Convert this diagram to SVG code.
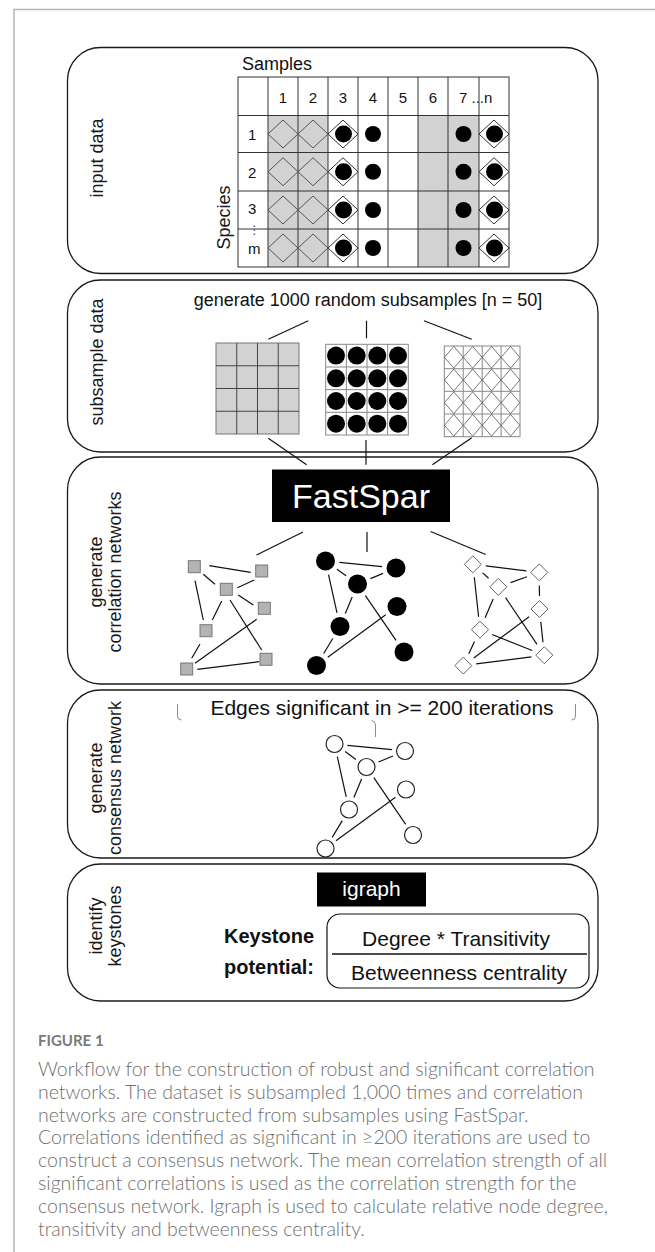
<svg xmlns="http://www.w3.org/2000/svg" xmlns:xlink="http://www.w3.org/1999/xlink" width="655" height="1252" viewBox="0 0 655 1252">
<style>
.panel{fill:none;stroke:#1a1a1a;stroke-width:1.3}
.t{font-family:"Liberation Sans",Arial,Helvetica,sans-serif;fill:#111}
.lbl{font-family:"Liberation Sans",Arial,Helvetica,sans-serif;font-size:18px;fill:#1a1a1a;text-anchor:middle}
.num{font-family:"Liberation Sans",Arial,Helvetica,sans-serif;font-size:15px;fill:#111}
.conn line,.conn path{stroke:#111;stroke-width:1.2;fill:none}
.edge line{stroke:#111;stroke-width:1.2}
.tl{stroke:#333;stroke-width:1}
.cap{font-family:Lato,"Open Sans","Liberation Sans",sans-serif;font-size:19.5px;font-weight:300;fill:#707070}
</style>
<defs>
<path id="dTab" d="M-15,0 L0,-14 L15,0 L0,14 Z"/>
<path id="dSub" d="M-9.3,0 L0,-10.9 L9.3,0 L0,10.9 Z" fill="none" stroke="#555" stroke-width="0.8"/>
<rect id="sq" x="-6" y="-6" width="12" height="12" fill="#b3b3b3" stroke="#777" stroke-width="1"/>
<path id="dn" d="M-8.5,0 L0,-8.5 L8.5,0 L0,8.5 Z" fill="#fff" stroke="#666" stroke-width="1"/>
</defs>

<path d="M14,1252 V9.5 H655" fill="none" stroke="#b5b5b5" stroke-width="1.5"/>

<g id="panel-input">
<rect class="panel" x="67.5" y="47.5" width="530.5" height="226" rx="33"/>
<text class="lbl" transform="translate(103,158) rotate(-90)">input data</text>
<text class="t" x="242" y="70" font-size="18">Samples</text>
<text class="lbl" transform="translate(230,217.5) rotate(-90)">Species</text>
<rect x="238" y="77" width="271" height="190" fill="#fff"/>
<rect x="268" y="115.5" width="60" height="151.5" fill="#d2d2d2"/>
<rect x="418" y="115.5" width="61" height="151.5" fill="#d2d2d2"/>
<g class="tl">
<line x1="268" y1="77" x2="268" y2="267"/><line x1="298" y1="77" x2="298" y2="267"/>
<line x1="328" y1="77" x2="328" y2="267"/><line x1="358" y1="77" x2="358" y2="267"/>
<line x1="388" y1="77" x2="388" y2="267"/><line x1="418" y1="77" x2="418" y2="267"/>
<line x1="448" y1="77" x2="448" y2="267"/><line x1="479" y1="77" x2="479" y2="267"/>
<line x1="238" y1="115.5" x2="509" y2="115.5"/><line x1="238" y1="152.5" x2="509" y2="152.5"/>
<line x1="238" y1="191" x2="509" y2="191"/><line x1="238" y1="229" x2="509" y2="229"/>
</g>
<rect x="238" y="77" width="271" height="190" fill="none" stroke="#333" stroke-width="1"/>
<g class="num" text-anchor="middle">
<text x="283" y="103">1</text><text x="313" y="103">2</text><text x="343" y="103">3</text>
<text x="373" y="103">4</text><text x="403" y="103">5</text><text x="433" y="103">6</text>
</g>
<text class="num" x="459" y="103">7 ...n</text>
<g class="num">
<text x="248" y="140">1</text><text x="248" y="178">2</text><text x="248" y="214">3</text><text x="248" y="254">m</text>
</g>
<text x="248.5" y="234" font-family="DejaVu Sans,sans-serif" font-size="12" fill="#444">⋮</text>
<g fill="none" stroke="#555" stroke-width="1">
<use xlink:href="#dTab" x="283" y="134"/><use xlink:href="#dTab" x="313" y="134"/>
<use xlink:href="#dTab" x="283" y="171.75"/><use xlink:href="#dTab" x="313" y="171.75"/>
<use xlink:href="#dTab" x="283" y="210"/><use xlink:href="#dTab" x="313" y="210"/>
<use xlink:href="#dTab" x="283" y="248"/><use xlink:href="#dTab" x="313" y="248"/>
</g>
<g fill="#fff" stroke="#333" stroke-width="1">
<use xlink:href="#dTab" x="343" y="134"/><use xlink:href="#dTab" x="494" y="134"/>
<use xlink:href="#dTab" x="343" y="171.75"/><use xlink:href="#dTab" x="494" y="171.75"/>
<use xlink:href="#dTab" x="343" y="210"/><use xlink:href="#dTab" x="494" y="210"/>
<use xlink:href="#dTab" x="343" y="248"/><use xlink:href="#dTab" x="494" y="248"/>
</g>
<g fill="#000">
<circle cx="343.5" cy="134" r="8.5"/><circle cx="373" cy="134" r="8"/><circle cx="463.5" cy="134" r="8"/><circle cx="494.5" cy="134" r="8.5"/>
<circle cx="343.5" cy="171.75" r="8.5"/><circle cx="373" cy="171.75" r="8"/><circle cx="463.5" cy="171.75" r="8"/><circle cx="494.5" cy="171.75" r="8.5"/>
<circle cx="343.5" cy="210" r="8.5"/><circle cx="373" cy="210" r="8"/><circle cx="463.5" cy="210" r="8"/><circle cx="494.5" cy="210" r="8.5"/>
<circle cx="343.5" cy="248" r="8.5"/><circle cx="373" cy="248" r="8"/><circle cx="463.5" cy="248" r="8"/><circle cx="494.5" cy="248" r="8.5"/>
</g>
</g>

<g id="panel-subsample">
<rect class="panel" x="67.5" y="280" width="530.5" height="172" rx="33"/>
<text class="lbl" transform="translate(103,362) rotate(-90)">subsample data</text>
<text class="t" x="368" y="306" font-size="18" text-anchor="middle">generate 1000 random subsamples [n = 50]</text>
<g id="grid-gray">
<rect x="216" y="343" width="83" height="91" fill="#d2d2d2" stroke="#777" stroke-width="1"/>
<g stroke="#444" stroke-width="1">
<line x1="236.75" y1="343" x2="236.75" y2="434"/><line x1="257.5" y1="343" x2="257.5" y2="434"/><line x1="278.25" y1="343" x2="278.25" y2="434"/>
<line x1="216" y1="365.75" x2="299" y2="365.75"/><line x1="216" y1="388.5" x2="299" y2="388.5"/><line x1="216" y1="411.25" x2="299" y2="411.25"/>
</g>
</g>
<g id="grid-black">
<rect x="325.7" y="344.3" width="82.6" height="90.7" fill="#fff" stroke="#888" stroke-width="1"/>
<g stroke="#888" stroke-width="1">
<line x1="346.35" y1="344.3" x2="346.35" y2="435"/><line x1="367" y1="344.3" x2="367" y2="435"/><line x1="387.65" y1="344.3" x2="387.65" y2="435"/>
<line x1="325.7" y1="367" x2="408.3" y2="367"/><line x1="325.7" y1="389.65" x2="408.3" y2="389.65"/><line x1="325.7" y1="412.3" x2="408.3" y2="412.3"/>
</g>
<g fill="#000">
<circle cx="336" cy="355.6" r="9"/><circle cx="356.7" cy="355.6" r="9"/><circle cx="377.3" cy="355.6" r="9"/><circle cx="398" cy="355.6" r="9"/>
<circle cx="336" cy="378.3" r="9"/><circle cx="356.7" cy="378.3" r="9"/><circle cx="377.3" cy="378.3" r="9"/><circle cx="398" cy="378.3" r="9"/>
<circle cx="336" cy="401" r="9"/><circle cx="356.7" cy="401" r="9"/><circle cx="377.3" cy="401" r="9"/><circle cx="398" cy="401" r="9"/>
<circle cx="336" cy="423.7" r="9"/><circle cx="356.7" cy="423.7" r="9"/><circle cx="377.3" cy="423.7" r="9"/><circle cx="398" cy="423.7" r="9"/>
</g>
</g>
<g id="grid-diamond">
<rect x="444.3" y="346" width="75.7" height="90.7" fill="#fff" stroke="#888" stroke-width="1"/>
<g stroke="#888" stroke-width="1">
<line x1="463.2" y1="346" x2="463.2" y2="436.7"/><line x1="482.2" y1="346" x2="482.2" y2="436.7"/><line x1="501.1" y1="346" x2="501.1" y2="436.7"/>
<line x1="444.3" y1="368.7" x2="520" y2="368.7"/><line x1="444.3" y1="391.3" x2="520" y2="391.3"/><line x1="444.3" y1="414" x2="520" y2="414"/>
</g>
<use xlink:href="#dSub" x="453.8" y="357.3"/><use xlink:href="#dSub" x="472.7" y="357.3"/><use xlink:href="#dSub" x="491.6" y="357.3"/><use xlink:href="#dSub" x="510.5" y="357.3"/>
<use xlink:href="#dSub" x="453.8" y="380"/><use xlink:href="#dSub" x="472.7" y="380"/><use xlink:href="#dSub" x="491.6" y="380"/><use xlink:href="#dSub" x="510.5" y="380"/>
<use xlink:href="#dSub" x="453.8" y="402.7"/><use xlink:href="#dSub" x="472.7" y="402.7"/><use xlink:href="#dSub" x="491.6" y="402.7"/><use xlink:href="#dSub" x="510.5" y="402.7"/>
<use xlink:href="#dSub" x="453.8" y="425.3"/><use xlink:href="#dSub" x="472.7" y="425.3"/><use xlink:href="#dSub" x="491.6" y="425.3"/><use xlink:href="#dSub" x="510.5" y="425.3"/>
</g>
</g>

<g id="panel-fastspar">
<rect class="panel" x="67.5" y="457" width="530.5" height="227" rx="33"/>
<text class="lbl" transform="translate(101.5,572) rotate(-90)">generate</text>
<text class="lbl" transform="translate(121,572) rotate(-90)">correlation networks</text>
<rect x="272" y="469.5" width="178" height="52.5" fill="#000"/>
<text class="t" x="361" y="508" font-size="34" text-anchor="middle" style="fill:#fff">FastSpar</text>
<g id="net-squares">
<g class="edge">
<line x1="209.3" y1="565.7" x2="250.7" y2="572.3"/><line x1="203.3" y1="574.3" x2="215" y2="584.3"/>
<line x1="237.3" y1="587.7" x2="254.3" y2="580"/><line x1="195" y1="580.7" x2="203.3" y2="620"/>
<line x1="221.7" y1="601" x2="212.3" y2="620"/><line x1="238.3" y1="595" x2="253.3" y2="605"/>
<line x1="230" y1="600" x2="261.7" y2="650"/><line x1="256.7" y1="619.3" x2="195" y2="663.3"/>
<line x1="200" y1="644" x2="191.7" y2="658.3"/><line x1="197.3" y1="669.3" x2="259.3" y2="661.7"/>
</g>
<use xlink:href="#sq" x="194.3" y="566.7"/><use xlink:href="#sq" x="261.7" y="571"/><use xlink:href="#sq" x="226.3" y="589.3"/>
<use xlink:href="#sq" x="264.3" y="608.3"/><use xlink:href="#sq" x="206" y="630.7"/><use xlink:href="#sq" x="266" y="659.3"/>
<use xlink:href="#sq" x="186.7" y="669"/>
</g>
<g id="net-circles">
<g class="edge">
<line x1="339.4" y1="562.4" x2="382.1" y2="566.6"/><line x1="336.9" y1="569.2" x2="346.1" y2="575.8"/>
<line x1="370.4" y1="578.6" x2="383.1" y2="573.4"/><line x1="328.5" y1="574.7" x2="337" y2="612.8"/>
<line x1="352.2" y1="596.9" x2="345.3" y2="613.6"/><line x1="365.4" y1="595.6" x2="396.1" y2="640.4"/>
<line x1="385.7" y1="614.8" x2="327.8" y2="657.2"/><line x1="332.8" y1="638.5" x2="323.7" y2="653.5"/>
</g>
<g fill="#000">
<circle cx="325.5" cy="561" r="9.5"/><circle cx="396" cy="568" r="9.5"/><circle cx="357.5" cy="584" r="9.5"/>
<circle cx="397" cy="606.5" r="9.5"/><circle cx="340" cy="626.5" r="9.5"/><circle cx="404" cy="652" r="9.5"/>
<circle cx="316.5" cy="665.5" r="9.5"/>
</g>
</g>
<g id="net-diamonds">
<g class="edge">
<line x1="485.8" y1="565.9" x2="526.4" y2="570.8"/><line x1="482.6" y1="572.9" x2="488.6" y2="578.3"/>
<line x1="510.6" y1="582.6" x2="527" y2="576.7"/><line x1="474.3" y1="577.2" x2="478.6" y2="616.8"/>
<line x1="493.2" y1="598.9" x2="485.1" y2="617.7"/><line x1="505.6" y1="597.7" x2="537" y2="644.4"/>
<line x1="529.1" y1="616.7" x2="473.7" y2="657.9"/><line x1="474.5" y1="641.5" x2="468.8" y2="653.8"/>
<line x1="476.2" y1="663.9" x2="531.4" y2="656.9"/><line x1="539.3" y1="585.4" x2="539.5" y2="596"/>
<line x1="540.8" y1="621.9" x2="543" y2="642.3"/><line x1="492.1" y1="634.5" x2="532.2" y2="650.5"/>
</g>
<use xlink:href="#dn" x="472.9" y="564.3"/><use xlink:href="#dn" x="539.3" y="572.4"/><use xlink:href="#dn" x="498.3" y="586.9"/>
<use xlink:href="#dn" x="539.5" y="609"/><use xlink:href="#dn" x="480" y="629.7"/><use xlink:href="#dn" x="544.3" y="655.2"/>
<use xlink:href="#dn" x="463.3" y="665.6"/>
</g>
</g>

<g id="panel-consensus">
<rect class="panel" x="67.5" y="690" width="530.5" height="168" rx="33"/>
<text class="lbl" transform="translate(101.5,778) rotate(-90)">generate</text>
<text class="lbl" transform="translate(121,778) rotate(-90)">consensus network</text>
<text class="t" x="382" y="715" font-size="21" text-anchor="middle">Edges significant in &gt;= 200 iterations</text>
<g id="net-consensus">
<g class="edge">
<line x1="347.4" y1="745.3" x2="392.1" y2="749.7"/><line x1="345.1" y1="751.6" x2="355.9" y2="759.4"/>
<line x1="378.5" y1="762" x2="393" y2="756"/><line x1="337.3" y1="756.7" x2="346.2" y2="796.8"/>
<line x1="361.6" y1="779" x2="353.9" y2="797.5"/><line x1="373.8" y1="777.7" x2="405.7" y2="824.3"/>
<line x1="395.5" y1="797.2" x2="336" y2="840.8"/><line x1="342.3" y1="820.6" x2="332.2" y2="837.4"/>
</g>
<g fill="#fff" stroke="#222" stroke-width="1.2">
<circle cx="334.5" cy="744" r="8.5"/><circle cx="405" cy="751" r="8.5"/><circle cx="366.5" cy="767" r="8.5"/>
<circle cx="406" cy="789.5" r="8.5"/><circle cx="349" cy="809.5" r="8.5"/><circle cx="413" cy="835" r="8.5"/>
<circle cx="325.5" cy="848.5" r="8.5"/>
</g>
</g>
</g>

<g id="panel-keystone">
<rect class="panel" x="67.5" y="864" width="530.5" height="137" rx="33"/>
<text class="lbl" transform="translate(101.5,926) rotate(-90)">identify</text>
<text class="lbl" transform="translate(121,926) rotate(-90)">keystones</text>
<rect x="317" y="872.5" width="109" height="34" fill="#000"/>
<text class="t" x="371.5" y="896" font-size="21" text-anchor="middle" style="fill:#fff">igraph</text>
<text class="t" x="314" y="943" font-size="20" font-weight="bold" text-anchor="end">Keystone</text>
<text class="t" x="314" y="974" font-size="20" font-weight="bold" text-anchor="end">potential:</text>
<rect x="327" y="914" width="262" height="74" rx="13" fill="none" stroke="#111" stroke-width="1.2"/>
<line x1="332" y1="954" x2="587" y2="954" stroke="#111" stroke-width="1.3"/>
<text class="t" x="456" y="946" font-size="21" text-anchor="middle">Degree * Transitivity</text>
<text class="t" x="459" y="980" font-size="21" text-anchor="middle">Betweenness centrality</text>
</g>

<g id="connectors" class="conn">
<line x1="308.3" y1="320.7" x2="268.3" y2="339.3"/>
<line x1="366.5" y1="320.7" x2="366.5" y2="338.3"/>
<line x1="424" y1="320.7" x2="471.7" y2="339.3"/>
<line x1="268.3" y1="438.3" x2="306.6" y2="464.7"/>
<line x1="366" y1="440" x2="366" y2="464.7"/>
<line x1="471.7" y1="437.7" x2="432.4" y2="464.7"/>
<line x1="303" y1="532" x2="256.5" y2="555"/>
<line x1="367" y1="532" x2="367" y2="552"/>
<line x1="430.6" y1="531.5" x2="485.7" y2="554.5"/>
<path style="stroke:#8a8a8a;stroke-width:1" d="M177.5,704 V716 Q177.5,720 181.5,720"/>
<path style="stroke:#8a8a8a;stroke-width:1" d="M371.5,720.5 Q375.5,721 375.5,725 V737"/>
<path style="stroke:#8a8a8a;stroke-width:1" d="M575.5,704 V716 Q575.5,720 571.5,720"/>
</g>

<g id="caption">
<text x="38" y="1046" font-family="Lato,'Open Sans','Liberation Sans',sans-serif" font-size="15" font-weight="700" fill="#7a7a7a">FIGURE 1</text>
<text class="cap" x="38" y="1076">Workflow for the construction of robust and significant correlation</text>
<text class="cap" x="38" y="1098.8">networks. The dataset is subsampled 1,000 times and correlation</text>
<text class="cap" x="38" y="1121.6">networks are constructed from subsamples using FastSpar.</text>
<text class="cap" x="38" y="1144.4">Correlations identified as significant in ≥200 iterations are used to</text>
<text class="cap" x="38" y="1167.2">construct a consensus network. The mean correlation strength of all</text>
<text class="cap" x="38" y="1190">significant correlations is used as the correlation strength for the</text>
<text class="cap" x="38" y="1212.8">consensus network. Igraph is used to calculate relative node degree,</text>
<text class="cap" x="38" y="1235.6">transitivity and betweenness centrality.</text>
</g>
</svg>
